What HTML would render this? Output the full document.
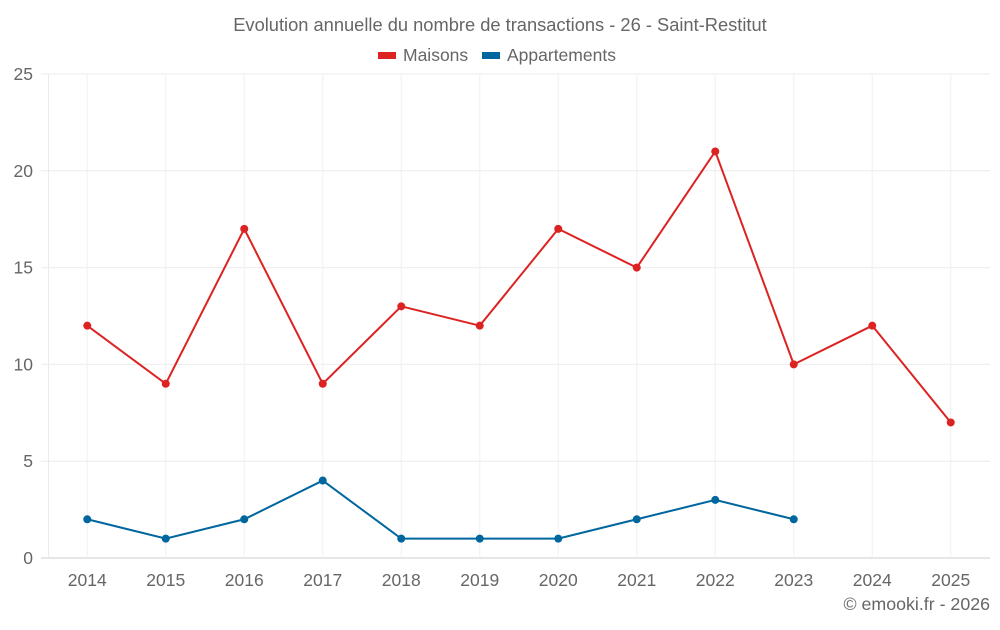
<!DOCTYPE html>
<html><head><meta charset="utf-8"><style>
body{margin:0;background:#fff;font-family:"Liberation Sans",sans-serif}
svg text{font-family:"Liberation Sans",sans-serif;fill:#666}
</style></head><body>
<svg id="c" width="1000" height="625" xmlns="http://www.w3.org/2000/svg">
<text x="500" y="31" text-anchor="middle" font-size="18.3">Evolution annuelle du nombre de transactions - 26 - Saint-Restitut</text>
<g>
<g><rect x="378" y="52" width="18" height="7" fill="#dd2222"/><text x="403" y="61" font-size="17.5">Maisons</text></g>
<g><rect x="482" y="52" width="18" height="7" fill="#00669e"/><text x="507" y="61" font-size="17.5">Appartements</text></g>
</g>
<g id="grid"></g><g id="axes"></g><g id="series"></g>
<text x="990" y="610" text-anchor="end" font-size="17.8">© emooki.fr - 2026</text>
</svg>
<script>
const years=["2014","2015","2016","2017","2018","2019","2020","2021","2022","2023","2024","2025"];
const maisons=[12,9,17,9,13,12,17,15,21,10,12,7];
const appartements=[2,1,2,4,1,1,1,2,3,2];
const yTicks=[0,5,10,15,20,25];
const NS="http://www.w3.org/2000/svg";
const L=48,R=990,T=74,B=558,yMax=25;
const bw=(R-L)/years.length;
const xs=i=>L+bw*(i+0.5);
const ys=v=>B-(v/yMax)*(B-T);
function mk(tag,at,parent){const e=document.createElementNS(NS,tag);for(const k in at)e.setAttribute(k,at[k]);document.getElementById(parent).appendChild(e);return e;}
yTicks.forEach(t=>{
 const l=mk('line',{x1:41,x2:R,y1:ys(t),y2:ys(t),stroke:t===0?'#ccc':'#ebebeb','stroke-width':1},'grid');
 
 
 const tx=mk('text',{x:33,y:ys(t)+6,'text-anchor':'end','font-size':17.5},'axes');tx.textContent=t;
 
 
});
const lb=mk('line',{x1:L+.5,x2:L+.5,y1:T,y2:B,stroke:'#ebebeb'},'grid');


years.forEach((y,i)=>{
 const l=mk('line',{x1:xs(i),x2:xs(i),y1:T,y2:B,stroke:'#f0f0f0'},'grid');
 
 
 const tx=mk('text',{x:xs(i),y:586,'text-anchor':'middle','font-size':17.5},'axes');tx.textContent=y;
 
 
});
function series(vals,color,name){
 const p=mk('polyline',{points:vals.map((v,i)=>xs(i)+','+ys(v)).join(' '),fill:'none',stroke:color,'stroke-width':2},'series');
 
 
 vals.forEach((v,i)=>{const c=mk('circle',{cx:xs(i),cy:ys(v),r:4,fill:color},'series');
  
  });
}
series(maisons,'#dd2222','maisons');
series(appartements,'#00669e','appartements');
</script>
</body></html>
